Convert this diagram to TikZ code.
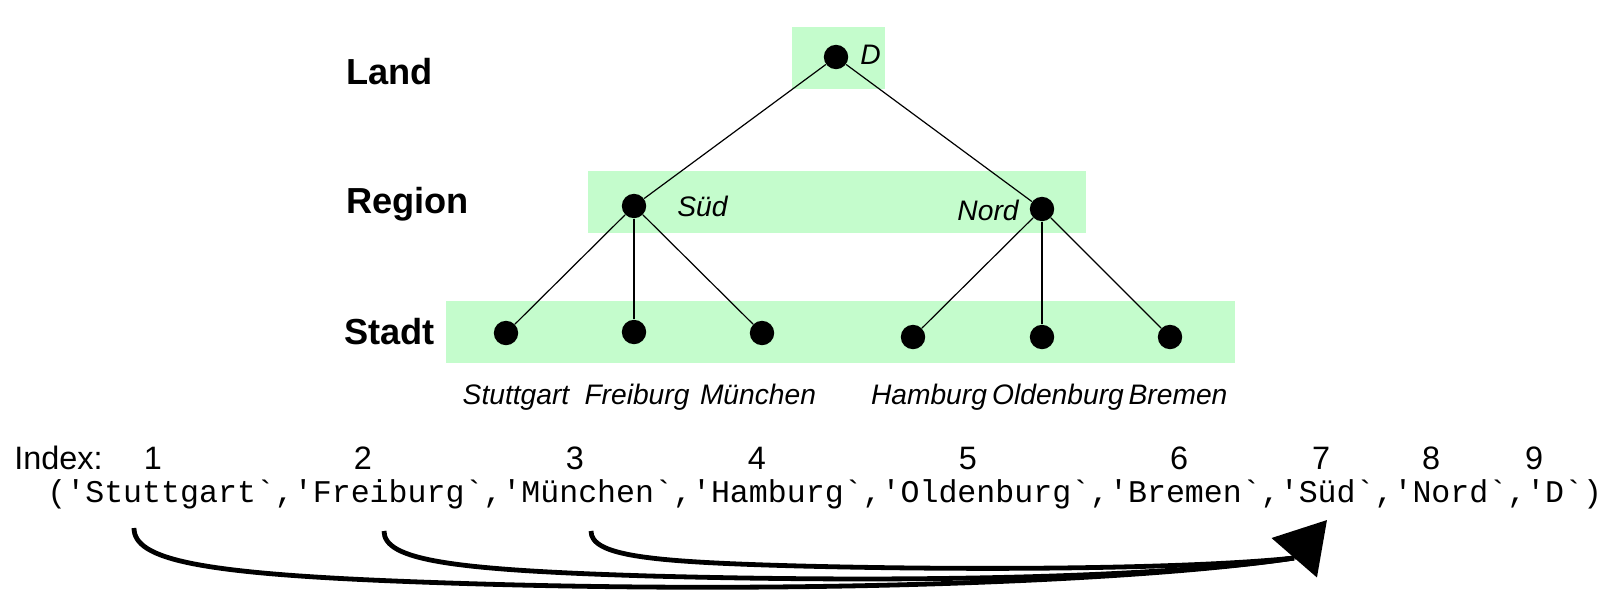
\documentclass[tikz,border=0pt]{standalone}
\usepackage{fontspec}
\setmainfont{Liberation Sans}
\setmonofont{Liberation Mono}
\usetikzlibrary{arrows.meta}
\definecolor{boxgreen}{RGB}{196,252,204}
\newcommand{\opq}{{\char39}}
\newcommand{\clq}{{\char96}}

\begin{document}
\begin{tikzpicture}[x=0.5pt,y=-0.5pt,
  dot/.style={circle,fill=black,inner sep=0pt,minimum size=12.2pt},
  level/.style={anchor=base west,inner sep=0pt,font=\fontsize{18.1}{20}\selectfont\bfseries},
  place/.style={inner sep=0pt,font=\fontsize{14.1}{16}\selectfont\itshape},
  idx/.style={anchor=base,inner sep=0pt,font=\fontsize{16.2}{18}\selectfont},
  edge/.style={line width=0.6pt},
  link/.style={line width=2.4pt}]
\useasboundingbox (0,0) rectangle (1618,600);

% green bands behind the levels
\fill[boxgreen] (792,27) rectangle (885,89);
\fill[boxgreen] (588,171) rectangle (1086,233);
\fill[boxgreen] (446,301) rectangle (1235,363);

\node[level] (land) at (346,84) {Land};
\node[level] (region) at (346,213) {Region};
\node[level] (stadt) at (344,344) {Stadt};

\node[dot] (d) at (836,57) {};
\node[place,anchor=base west] (d-lab) at (860,64) {D};
\node[dot] (sued) at (634,206) {};
\node[place,anchor=base west] (sued-lab) at (677,216) {Süd};
\node[dot] (nord) at (1042,209) {};
\node[place,anchor=base east] (nord-lab) at (1019,220) {Nord};

\draw[edge] (d) -- (sued);
\draw[edge] (d) -- (nord);

% cities with their labels
\foreach \x/\y/\lx/\n/\t/\p in {506/333/516/stuttgart/Stuttgart/sued,
  634/332/637/freiburg/Freiburg/sued, 762/333/758/muenchen/München/sued,
  913/337/929/hamburg/Hamburg/nord, 1042/337/1058/oldenburg/Oldenburg/nord,
  1170/337/1178/bremen/Bremen/nord}
{
  \node[dot] (\n) at (\x,\y) {};
  \node[place,anchor=base] (\n-lab) at (\lx,404) {\t};
  \draw[edge] (\p) -- (\n);
};

% index row and the tuple
\node[idx,anchor=base west] (index) at (14,469) {Index:};
\foreach \x/\i in {153/1,363/2,575/3,757/4,968/5,1179/6,1321/7,1431/8,1534/9}
  \node[idx] (n\i) at (\x,469) {\i};

\node[anchor=base west,inner sep=0pt,font=\fontsize{15.8}{18}\selectfont\ttfamily] (tuple) at (47,502)
  {(\opq Stuttgart\clq,\opq Freiburg\clq,\opq München\clq,\opq Hamburg\clq,\opq Oldenburg\clq,\opq Bremen\clq,\opq Süd\clq,\opq Nord\clq,\opq D\clq)};

% pointers from the cities to Sued
\coordinate (c1) at (134,528);
\coordinate (c2) at (384,531);
\coordinate (c3) at (591,531);
\coordinate (join) at (1294,558);
\coordinate (tip) at (1327,520);
\draw[link] (c1) .. controls (134,560) and (200,574) .. (420,582) .. controls (800,596) and (1150,580) .. (join);
\draw[link] (c2) .. controls (384,560) and (450,570) .. (650,576) .. controls (950,584) and (1180,575) .. (join);
\draw[link] (c3) .. controls (591,556) and (650,562) .. (800,566) .. controls (1000,571) and (1200,568) .. (join);
\draw[link,-{Triangle[length=25pt,width=29.5pt]}] (join) -- (tip);
\end{tikzpicture}
\end{document}
